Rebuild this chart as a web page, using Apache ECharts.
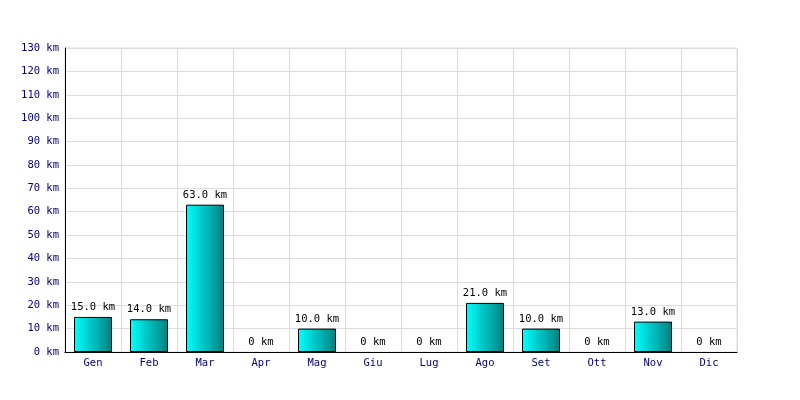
<!DOCTYPE html>
<html><head><meta charset="utf-8">
<script src="https://cdn.jsdelivr.net/npm/echarts@6/dist/echarts.min.js"></script>
<style>html,body{margin:0;padding:0;background:#fff}#c{width:800px;height:400px}</style>
</head><body><div id="c"></div>
<script>
const months = ['Gen','Feb','Mar','Apr','Mag','Giu','Lug','Ago','Set','Ott','Nov','Dic'];
const distances = [15, 14, 63, 0, 10, 0, 0, 21, 10, 0, 13, 0];
const yMax = 130;
const yStep = 10;

const chart = echarts.init(document.getElementById('c'), null, {renderer: 'canvas'});
const font = 'DejaVu Sans Mono';
chart.setOption({
  animation: false,
  backgroundColor: '#fff',
  grid: {left: 65, right: 63, top: 48, bottom: 48, show: true, borderColor: '#dddddd', borderWidth: 1},
  xAxis: {
    type: 'category', data: months,
    axisLine: {lineStyle: {color: '#000', width: 1}},
    axisTick: {show: false},
    axisLabel: {color: '#000080', fontFamily: font, fontSize: 10.5, margin: 6},
    splitLine: {show: true, lineStyle: {color: '#dddddd'}}
  },
  yAxis: {
    type: 'value', min: 0, max: yMax, interval: yStep,
    axisLine: {show: true, lineStyle: {color: '#000', width: 1}},
    axisTick: {show: false},
    axisLabel: {color: '#000080', fontFamily: font, fontSize: 10.5, margin: 6, formatter: v => v + ' km'},
    splitLine: {lineStyle: {color: '#dddddd'}}
  },
  series: [{
    type: 'bar', barWidth: 38, z: 3,
    data: distances.map(v => v === 0 ? {value: v, itemStyle: {borderWidth: 0, opacity: 0}, label: {opacity: 1}} : v),
    itemStyle: {
      borderColor: '#000', borderWidth: 1,
      color: new echarts.graphic.LinearGradient(0, 0, 1, 0, [
        {offset: 0, color: '#00ffff'}, {offset: 1, color: '#008080'}
      ])
    },
    label: {
      show: true, position: 'top', distance: 4, color: '#000', fontFamily: font, fontSize: 10.5,
      formatter: p => p.value === 0 ? '0 km' : p.value.toFixed(1) + ' km'
    }
  }]
});
</script></body></html>
